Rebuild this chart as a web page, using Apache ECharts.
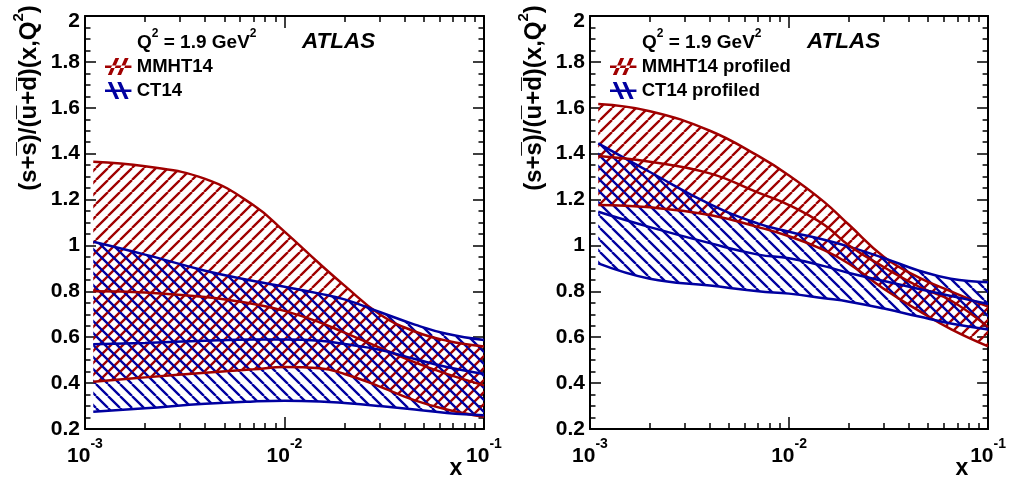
<!DOCTYPE html>
<html><head><meta charset="utf-8">
<script src="https://cdn.jsdelivr.net/npm/echarts@6/dist/echarts.min.js"></script>
<style>html,body{margin:0;padding:0;background:#fff}#c{width:1009px;height:478px}</style>
</head><body><div id="c"></div>
<script>
// ---- data ----
const xPts = [0.0011, 0.002, 0.004, 0.007, 0.01, 0.015, 0.02, 0.03, 0.045, 0.065, 0.1];
// left panel
const mmhtUpper   = [1.365,1.345,1.29,1.175,1.06,0.92,0.825,0.70,0.625,0.585,0.56];
const mmhtCentral = [0.80,0.795,0.775,0.745,0.715,0.665,0.62,0.555,0.49,0.44,0.39];
const mmhtLower   = [0.406,0.425,0.445,0.46,0.47,0.465,0.44,0.385,0.325,0.285,0.253];
const ct14Upper   = [1.016,0.96,0.89,0.845,0.82,0.79,0.765,0.71,0.655,0.615,0.588];
const ct14Central = [0.569,0.575,0.585,0.59,0.59,0.585,0.57,0.545,0.505,0.47,0.44];
const ct14Lower   = [0.275,0.29,0.31,0.32,0.323,0.32,0.313,0.30,0.285,0.27,0.26];
// right panel
const mmhtProfUpper   = [1.616,1.585,1.50,1.39,1.305,1.19,1.09,0.95,0.86,0.80,0.733];
const mmhtProfCentral = [1.39,1.365,1.314,1.23,1.176,1.09,1.00,0.905,0.82,0.76,0.644];
const mmhtProfLower   = [1.176,1.166,1.133,1.08,1.04,0.98,0.92,0.81,0.715,0.635,0.56];
const ct14ProfUpper   = [1.445,1.32,1.18,1.095,1.06,1.025,0.995,0.945,0.89,0.855,0.84];
const ct14ProfCentral = [1.147,1.08,1.01,0.96,0.944,0.91,0.88,0.845,0.81,0.78,0.745];
const ct14ProfLower   = [0.922,0.855,0.825,0.80,0.79,0.77,0.755,0.725,0.69,0.66,0.634];
// axes
const xMin = 0.001, xMax = 0.1;
const xMinorTicks = [0.002,0.003,0.004,0.005,0.006,0.007,0.008,0.009,0.02,0.03,0.04,0.05,0.06,0.07,0.08,0.09];
const yMin = 0.2, yMax = 2, yStep = 0.2;
const legendLeft  = ['MMHT14', 'CT14'];
const legendRight = ['MMHT14 profiled', 'CT14 profiled'];

// ---- styling ----
const RED = '#a00000', BLUE = '#0000a0';
const FONT = "'Liberation Sans', Arial, Helvetica, sans-serif";

function hatch(color, dir) {
  const P = 12;
  const c = document.createElement('canvas');
  c.width = P; c.height = P;
  const g = c.getContext('2d');
  g.strokeStyle = color; g.lineWidth = 2.3;
  g.beginPath();
  for (let k = -1; k <= 1; k++) {
    const o = k * P;
    if (dir > 0) { g.moveTo(o, P); g.lineTo(o + P, 0); }
    else { g.moveTo(o, 0); g.lineTo(o + P, P); }
  }
  g.stroke();
  return c;
}
const redHatch = hatch(RED, 1), blueHatch = hatch(BLUE, -1);
const iconSlash = 'path://M0,9L28,9L28,11.5L0,11.5Z M3,19L7,19L15,1L11,1Z M13,19L17,19L25,1L21,1Z';
const iconBack  = 'path://M0,9L28,9L28,11.5L0,11.5Z M3,1L7,1L15,19L11,19Z M13,1L17,1L25,19L21,19Z';

const panels = [
  {left: 85, width: 399, names: legendLeft,
   models: [[mmhtLower, mmhtUpper, mmhtCentral, RED, redHatch, iconSlash],
            [ct14Lower, ct14Upper, ct14Central, BLUE, blueHatch, iconBack]]},
  {left: 590, width: 400, names: legendRight,
   models: [[mmhtProfLower, mmhtProfUpper, mmhtProfCentral, RED, redHatch, iconSlash],
            [ct14ProfLower, ct14ProfUpper, ct14ProfCentral, BLUE, blueHatch, iconBack]]}
];

const grid = [], xAxis = [], yAxis = [], series = [], legend = [], graphic = [];
const axisLine = {show: true, onZero: false, lineStyle: {color: '#000', width: 2}};
const tickStyle = {color: '#000', width: 1.5};
const supRich = (base) => ({
  n: {fontSize: base, fontWeight: 'bold', fontFamily: FONT, color: '#000', lineHeight: base + 6, verticalAlign: 'bottom'},
  s: {fontSize: Math.round(base * 0.62), fontWeight: 'bold', fontFamily: FONT, color: '#000', lineHeight: base + 6, verticalAlign: 'top'}
});

panels.forEach((p, pi) => {
  grid.push({left: p.left, top: 16, width: p.width, height: 413});
  ['bottom', 'top'].forEach(pos => {
    xAxis.push({type: 'log', logBase: 10, gridIndex: pi, position: pos, min: xMin, max: xMax,
      axisLine: axisLine, splitLine: {show: false},
      axisTick: {show: true, inside: true, length: 12, lineStyle: tickStyle},
      axisLabel: pos === 'bottom' ? {
        show: true, margin: 8,
        formatter: v => '{b|10}{s|' + Math.round(Math.log10(v)) + '}',
        rich: {
          b: {fontSize: 21, fontWeight: 'bold', fontFamily: FONT, color: '#000', lineHeight: 30, verticalAlign: 'bottom'},
          s: {fontSize: 14, fontWeight: 'bold', fontFamily: FONT, color: '#000', lineHeight: 30, verticalAlign: 'top'}
        }
      } : {show: false}
    });
    xAxis.push({type: 'log', logBase: 10, gridIndex: pi, position: pos, min: xMin, max: xMax,
      axisLine: {show: false}, splitLine: {show: false}, axisLabel: {show: false},
      axisTick: {show: true, inside: true, length: 6, lineStyle: tickStyle, customValues: xMinorTicks}
    });
  });
  ['left', 'right'].forEach(pos => {
    yAxis.push({type: 'value', gridIndex: pi, position: pos, min: yMin, max: yMax, interval: yStep,
      axisLine: axisLine, splitLine: {show: false},
      axisTick: {show: true, inside: true, length: 11, lineStyle: tickStyle},
      minorTick: {show: true, splitNumber: 4, length: 5.5, lineStyle: tickStyle},
      axisLabel: pos === 'left' ? {show: true, margin: 5, fontSize: 21, fontWeight: 'bold', fontFamily: FONT, color: '#000',
        formatter: v => (Math.abs(v - yMax) < 1e-9 ? '{t|' + v + '}' : String(+v.toFixed(2))),
        rich: {t: {fontSize: 21, fontWeight: 'bold', fontFamily: FONT, color: '#000', padding: [11, 0, 0, 0]}}
      } : {show: false}
    });
  });
  const xi = pi * 4, yi = pi * 2;
  p.models.forEach(([lo, up, ce, col, pat, icon], mi) => {
    const stackKey = 'band' + pi + '_' + mi;
    const common = {type: 'line', xAxisIndex: xi, yAxisIndex: yi, showSymbol: false, symbol: 'none',
      smooth: 0.45, silent: true, lineStyle: {color: col, width: 2.5}, itemStyle: {color: col}};
    // columns: [y, x] so that the stacked dimension is y
    series.push(Object.assign({}, common, {name: p.names[mi] + ' lower', stack: stackKey, z: 3,
      encode: {x: 1, y: 0}, data: xPts.map((x, i) => [lo[i], x])}));
    series.push(Object.assign({}, common, {name: p.names[mi], stack: stackKey, z: 2,
      encode: {x: 1, y: 0},
      areaStyle: {color: {image: pat, repeat: 'repeat'}, opacity: 1},
      data: xPts.map((x, i) => [up[i] - lo[i], x])}));
    series.push(Object.assign({}, common, {name: p.names[mi] + ' central', z: 3,
      data: xPts.map((x, i) => [x, ce[i]])}));
  });
  legend.push({
    orient: 'vertical', left: p.left + 20, top: 57, padding: 0, itemGap: 5,
    itemWidth: 27, itemHeight: 17, selectedMode: false,
    textStyle: {fontSize: 18.5, fontWeight: 'bold', fontFamily: FONT, color: '#000', lineHeight: 17},
    data: p.models.map((m, mi) => ({name: p.names[mi], icon: m[5], itemStyle: {color: m[3], borderWidth: 0}}))
  });
  graphic.push({type: 'text', x: p.left - 59, y: 98, rotation: Math.PI / 2,
    style: {text: '{n|(s+s\u0305)/(u\u0305+d\u0305)(x,Q}{s|2}{n|)}', align: 'center', verticalAlign: 'middle', rich: supRich(24)}});
  graphic.push({type: 'text', x: p.left + 52, y: 40,
    style: {text: '{n|Q}{s|2}{n| = 1.9 GeV}{s|2}', align: 'left', verticalAlign: 'middle', rich: supRich(19)}});
  graphic.push({type: 'text', x: p.left + 217, y: 42,
    style: {text: 'ATLAS', align: 'left', verticalAlign: 'middle', fontSize: 22.5, fontWeight: 'bold', fontStyle: 'italic', fontFamily: FONT, fill: '#000'}});
  graphic.push({type: 'text', x: p.left + p.width - 28, y: 469,
    style: {text: 'x', align: 'center', verticalAlign: 'middle', fontSize: 23, fontWeight: 'bold', fontFamily: FONT, fill: '#000'}});
});

const chart = echarts.init(document.getElementById('c'), null, {renderer: 'canvas'});
chart.setOption({animation: false, backgroundColor: '#fff', grid, xAxis, yAxis, series, legend, graphic});
</script></body></html>
